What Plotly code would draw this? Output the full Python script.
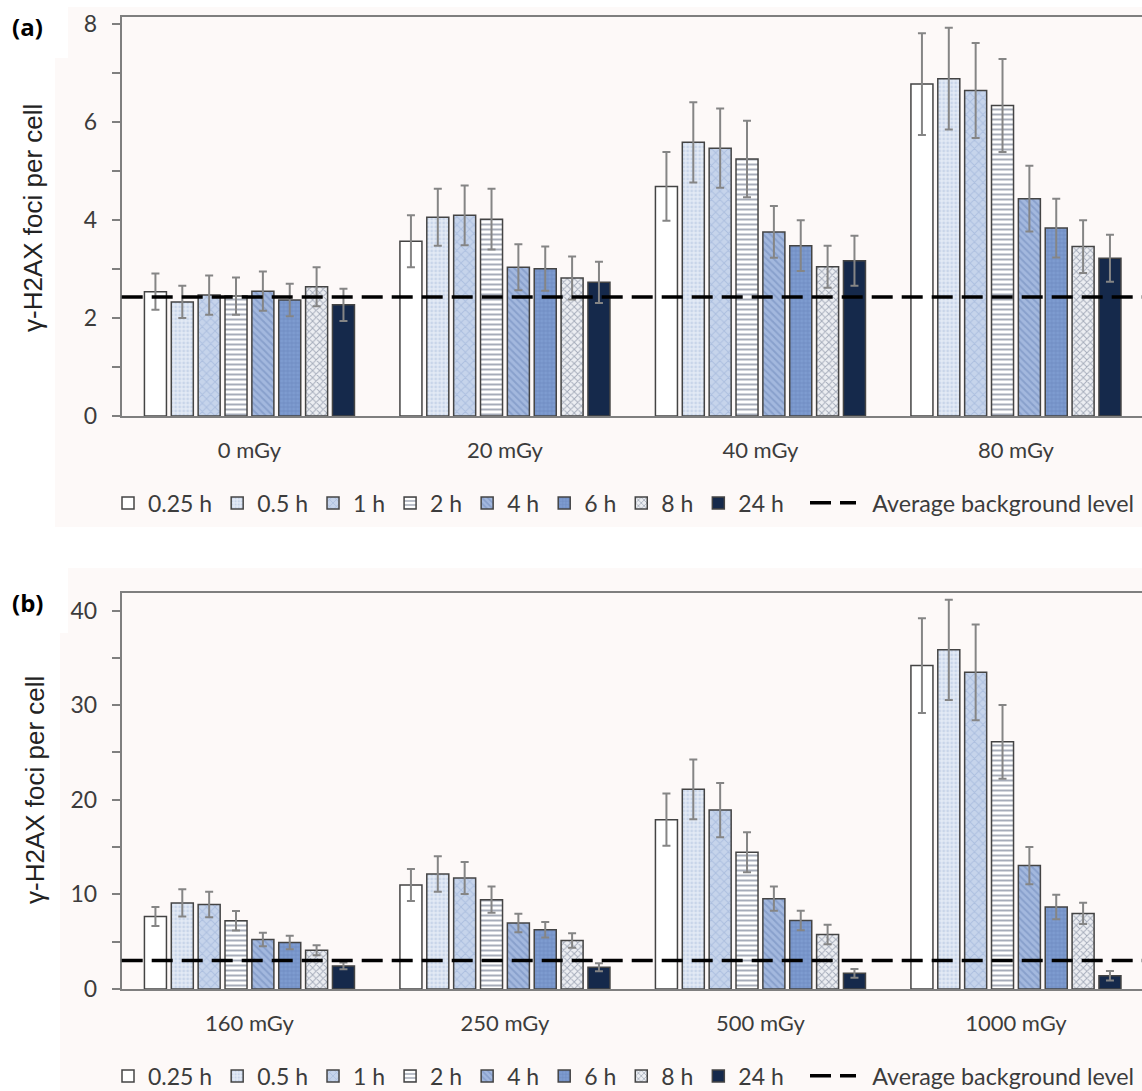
import plotly.graph_objects as go

# ---------------- data ----------------
doses_a = ['0 mGy', '20 mGy', '40 mGy', '80 mGy']
doses_b = ['160 mGy', '250 mGy', '500 mGy', '1000 mGy']
times = ['0.25 h', '0.5 h', '1 h', '2 h', '4 h', '6 h', '8 h', '24 h']
background_label = 'Average background level'

foci_a_025 = [2.54, 3.57, 4.69, 6.78]
foci_a_05 = [2.33, 4.06, 5.59, 6.89]
foci_a_1 = [2.47, 4.10, 5.47, 6.65]
foci_a_2 = [2.45, 4.02, 5.25, 6.34]
foci_a_4 = [2.55, 3.04, 3.76, 4.44]
foci_a_6 = [2.37, 3.01, 3.48, 3.84]
foci_a_8 = [2.64, 2.82, 3.05, 3.46]
foci_a_24 = [2.27, 2.73, 3.17, 3.22]

err_a_025 = [0.37, 0.53, 0.70, 1.04]
err_a_05 = [0.33, 0.58, 0.82, 1.04]
err_a_1 = [0.40, 0.61, 0.81, 0.97]
err_a_2 = [0.38, 0.62, 0.78, 0.95]
err_a_4 = [0.40, 0.47, 0.53, 0.67]
err_a_6 = [0.33, 0.45, 0.52, 0.60]
err_a_8 = [0.40, 0.44, 0.43, 0.54]
err_a_24 = [0.33, 0.42, 0.51, 0.48]

foci_b_025 = [7.67, 11.0, 17.89, 34.18]
foci_b_05 = [9.09, 12.16, 21.1, 35.84]
foci_b_1 = [8.94, 11.74, 18.91, 33.47]
foci_b_2 = [7.21, 9.44, 14.45, 26.12]
foci_b_4 = [5.23, 6.97, 9.54, 13.04]
foci_b_6 = [4.91, 6.26, 7.24, 8.66]
foci_b_8 = [4.10, 5.13, 5.76, 7.99]
foci_b_24 = [2.44, 2.30, 1.66, 1.41]

err_b_025 = [1.00, 1.69, 2.76, 5.00]
err_b_05 = [1.44, 1.87, 3.15, 5.30]
err_b_1 = [1.35, 1.69, 2.86, 5.06]
err_b_2 = [1.03, 1.38, 2.12, 3.90]
err_b_4 = [0.71, 0.98, 1.28, 1.98]
err_b_6 = [0.71, 0.81, 1.03, 1.30]
err_b_8 = [0.53, 0.77, 1.03, 1.13]
err_b_24 = [0.35, 0.42, 0.46, 0.50]

background_a = 2.43
background_b = 3.0

yticks_a = [0, 2, 4, 6, 8]
yticks_b = [0, 10, 20, 30, 40]

series_a = [foci_a_025, foci_a_05, foci_a_1, foci_a_2, foci_a_4, foci_a_6, foci_a_8, foci_a_24]
errors_a = [err_a_025, err_a_05, err_a_1, err_a_2, err_a_4, err_a_6, err_a_8, err_a_24]
series_b = [foci_b_025, foci_b_05, foci_b_1, foci_b_2, foci_b_4, foci_b_6, foci_b_8, foci_b_24]
errors_b = [err_b_025, err_b_05, err_b_1, err_b_2, err_b_4, err_b_6, err_b_8, err_b_24]

# ---------------- styles ----------------
W, H = 1142, 1091
FONT = 'Lato'
TXT = '#3c3c3c'
AXC = '#7f7f7f'
BG = '#fdf9f8'

styles = [
    dict(bg='#ffffff', shape='', fg='#ffffff', size=8, sol=0.2),
    dict(bg='#e3eaf5', shape='.', fg='#aebfdd', size=4, sol=0.4),
    dict(bg='#c6d4eb', shape='x', fg='#93aad3', size=6, sol=0.3),
    dict(bg='#ffffff', shape='-', fg='#4d5a73', size=5, sol=0.4),
    dict(bg='#a3b8de', shape='\\', fg='#6e88ba', size=5, sol=0.4),
    dict(bg='#7e9cd0', shape='+', fg='#5775ac', size=4, sol=0.3),
    dict(bg='#eceef2', shape='x', fg='#5d6a82', size=5, sol=0.35),
    dict(bg='#15294b', shape='', fg='#15294b', size=8, sol=0.2),
]

fig = go.Figure()


def add_panel(cats, series, errors, xa, ya, legend):
    for t, vals, errs, st in zip(times, series, errors, styles):
        fig.add_trace(go.Bar(
            x=cats, y=vals, name=t, xaxis=xa, yaxis=ya, legend=legend,
            marker=dict(color=st['bg'], line=dict(color='#444444', width=1.5),
                        pattern=dict(shape=st['shape'], fgcolor=st['fg'],
                                     bgcolor=st['bg'], size=st['size'],
                                     solidity=st['sol'], fillmode='overlay')),
            error_y=dict(type='data', array=errs, visible=True,
                         color='#858585', thickness=2, width=4),
        ))


add_panel(doses_a, series_a, errors_a, 'x', 'y', 'legend')
add_panel(doses_b, series_b, errors_b, 'x2', 'y2', 'legend3')

# background rectangles
fig.add_shape(type='rect', xref='paper', yref='paper', x0=55 / W, x1=1, y0=1 - 527 / H, y1=1 - 7 / H,
              fillcolor=BG, line_width=0, layer='below')
fig.add_shape(type='rect', xref='paper', yref='paper', x0=60 / W, x1=1, y0=0, y1=1 - 568 / H,
              fillcolor=BG, line_width=0, layer='below')
fig.add_shape(type='rect', xref='paper', yref='paper', x0=0, x1=68 / W, y0=1 - 58 / H, y1=1,
              fillcolor='white', line_width=0, layer='below')
fig.add_shape(type='rect', xref='paper', yref='paper', x0=0, x1=68 / W, y0=1 - 633 / H, y1=1 - 560 / H,
              fillcolor='white', line_width=0, layer='below')

# average background lines
legend_name = '\u00a0\u00a0' + background_label
fig.add_shape(type='line', xref='x domain', yref='y', x0=0, x1=1, y0=background_a, y1=background_a,
              line=dict(color='black', width=3.5, dash='21px,9px'), layer='above',
              showlegend=True, name=legend_name, legend='legend2')
fig.add_shape(type='line', xref='x2 domain', yref='y2', x0=0, x1=1, y0=background_b, y1=background_b,
              line=dict(color='black', width=3.5, dash='21px,9px'), layer='above',
              showlegend=True, name=legend_name, legend='legend4')

x0d = 121.7 / W
cat_px = 255.5
xr = [-0.5, -0.5 + (W - 121.7) / cat_px]

xax = dict(type='category', range=xr, domain=[x0d, 1], showline=True, linecolor=AXC, linewidth=2,
           mirror=True, ticks='', showgrid=False, zeroline=False,
           tickfont=dict(family=FONT, size=22, color=TXT), ticklabelstandoff=14)
yax = dict(showline=True, linecolor=AXC, linewidth=2, ticks='outside', ticklen=8, tickwidth=2,
           tickcolor=AXC, showgrid=False, zeroline=False,
           tickfont=dict(family=FONT, size=23, color=TXT), ticklabelstandoff=10)

legend_common = dict(orientation='h', bgcolor='rgba(0,0,0,0)', borderwidth=0,
                     font=dict(family=FONT, size=23, color=TXT), xanchor='left', yanchor='middle',
                     traceorder='normal')
legend_line = dict(legend_common, font=dict(family=FONT, size=23.3, color=TXT), itemwidth=46)

fig.update_layout(
    width=W, height=H, margin=dict(l=0, r=0, t=0, b=0, autoexpand=False),
    paper_bgcolor='white', plot_bgcolor='rgba(0,0,0,0)',
    barmode='group', bargap=0.159, bargroupgap=0.18,
    xaxis=dict(xax, anchor='y'),
    yaxis=dict(yax, anchor='x', domain=[1 - 416 / H, 1 - 17 / H], range=[0, 8.15],
               tickvals=yticks_a, minor=dict(ticks='outside', ticklen=8, tickwidth=2, tickcolor=AXC, dtick=1)),
    xaxis2=dict(xax, anchor='y2'),
    yaxis2=dict(yax, anchor='x2', domain=[1 - 989 / H, 1 - 593 / H], range=[0, 41.85],
                tickvals=yticks_b, minor=dict(ticks='outside', ticklen=8, tickwidth=2, tickcolor=AXC, dtick=5)),
    legend=dict(legend_common, x=108 / W, y=1 - 503 / H),
    legend2=dict(legend_line, x=805 / W, y=1 - 503 / H),
    legend3=dict(legend_common, x=108 / W, y=1 - 1076 / H),
    legend4=dict(legend_line, x=805 / W, y=1 - 1076 / H),
    annotations=[
        dict(text='<b>(a)</b>', x=10 / W, y=1 - 27 / H, xref='paper', yref='paper', xanchor='left',
             yanchor='middle', showarrow=False, font=dict(family='Open Sans', size=24, color='black')),
        dict(text='<b>(b)</b>', x=10 / W, y=1 - 602 / H, xref='paper', yref='paper', xanchor='left',
             yanchor='middle', showarrow=False, font=dict(family='Open Sans', size=24, color='black')),
        dict(text='γ-H2AX foci per cell', x=33 / W, y=1 - 218 / H, xref='paper', yref='paper',
             xanchor='center', yanchor='middle', textangle=-90, showarrow=False,
             font=dict(family='Liberation Sans', size=26, color='#222222')),
        dict(text='γ-H2AX foci per cell', x=35 / W, y=1 - 790 / H, xref='paper', yref='paper',
             xanchor='center', yanchor='middle', textangle=-90, showarrow=False,
             font=dict(family='Liberation Sans', size=26, color='#222222')),
    ],
)

fig.write_html('out.html', config={'displayModeBar': False},
               post_script="document.body.style.margin='0';document.body.style.overflow='hidden';"
                           "document.documentElement.style.overflow='hidden';")
